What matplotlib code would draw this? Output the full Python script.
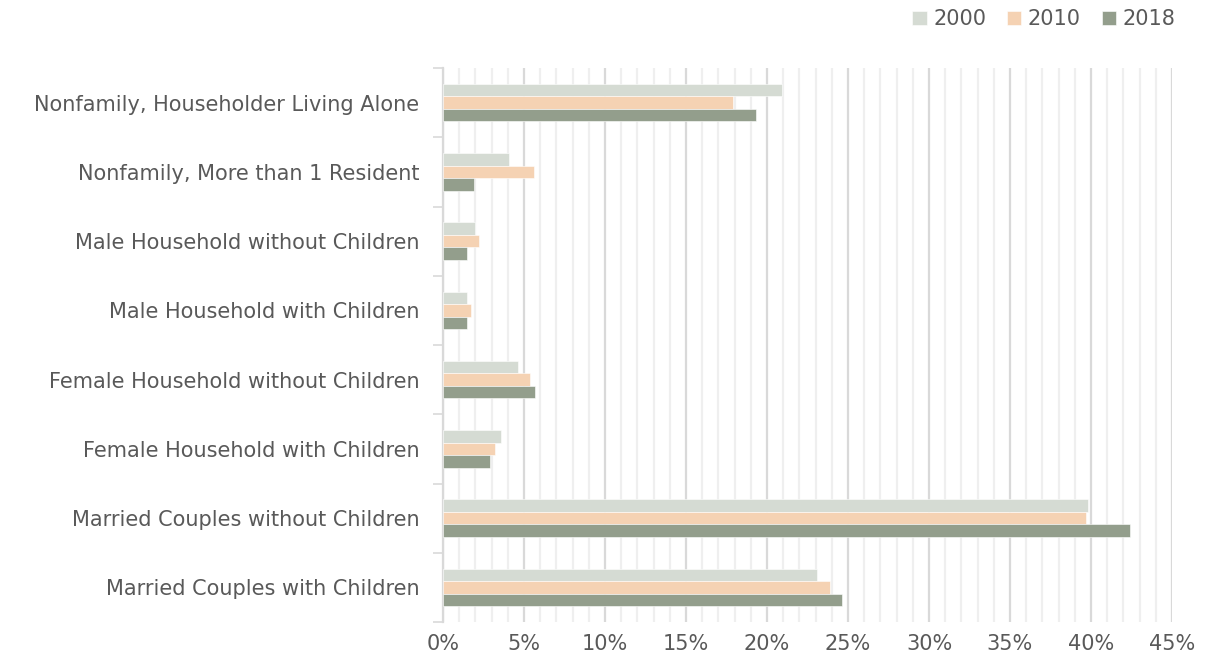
import matplotlib
matplotlib.use("Agg")
import matplotlib.pyplot as plt
from matplotlib.ticker import MultipleLocator, FuncFormatter
import numpy as np

categories = [
    "Nonfamily, Householder Living Alone",
    "Nonfamily, More than 1 Resident",
    "Male Household without Children",
    "Male Household with Children",
    "Female Household without Children",
    "Female Household with Children",
    "Married Couples without Children",
    "Married Couples with Children",
]
years = ["2000", "2010", "2018"]
share_2000 = [20.9, 4.1, 2.0, 1.5, 4.6, 3.6, 39.8, 23.1]
share_2010 = [17.9, 5.6, 2.2, 1.7, 5.4, 3.2, 39.7, 23.9]
share_2018 = [19.3, 1.9, 1.5, 1.5, 5.7, 2.9, 42.4, 24.6]
colors = ["#d5dbd3", "#f5d2b3", "#939e8c"]

text_color = "#595959"
plt.rcParams["font.family"] = ["DejaVu Sans"]

fig = plt.figure(figsize=(12.09, 6.64), dpi=100)
ax = fig.add_axes([443 / 1209, 1 - 622 / 664, (1172 - 443) / 1209, (622 - 68) / 664])

n = len(categories)
y = np.arange(n)
bar_h = 0.18
series = [share_2000, share_2010, share_2018]
for i, (vals, col, lab) in enumerate(zip(series, colors, years)):
    ax.barh(y + (i - 1) * bar_h, vals, height=bar_h, color=col, label=lab,
            edgecolor="white", linewidth=0.4, zorder=3)

ax.set_ylim(n - 0.5, -0.5)
ax.set_xlim(0, 45)

ax.xaxis.set_major_locator(MultipleLocator(5))
ax.xaxis.set_minor_locator(MultipleLocator(1))
ax.xaxis.set_major_formatter(FuncFormatter(lambda v, p: f"{v:.0f}%"))
ax.grid(axis="x", which="major", color="#d9d9d9", linewidth=1.6, zorder=0)
ax.grid(axis="x", which="minor", color="#efefef", linewidth=1.6, zorder=0)
ax.tick_params(axis="x", which="both", length=0, pad=9, labelsize=15, labelcolor=text_color)

# category labels at group centres, small ticks at group boundaries
ax.set_yticks(y)
ax.set_yticklabels(categories, fontsize=15, color=text_color)
ax.set_yticks(np.arange(-0.5, n + 0.5, 1), minor=True)
ax.tick_params(axis="y", which="major", length=0, pad=17)
ax.tick_params(axis="y", which="minor", length=7, width=1.2, color="#d9d9d9")

for side in ["top", "right", "bottom"]:
    ax.spines[side].set_visible(False)
ax.spines["left"].set_color("#d9d9d9")
ax.spines["left"].set_linewidth(1.6)

handles, labels = ax.get_legend_handles_labels()
fig.legend(handles, labels, loc="upper right", bbox_to_anchor=(1194 / 1209, 1.014),
           ncol=3, frameon=False, fontsize=15, labelcolor=text_color,
           handlelength=0.7, handleheight=0.7, handletextpad=0.3, columnspacing=1.0)

fig.savefig("out.png", dpi=100, facecolor="white")
